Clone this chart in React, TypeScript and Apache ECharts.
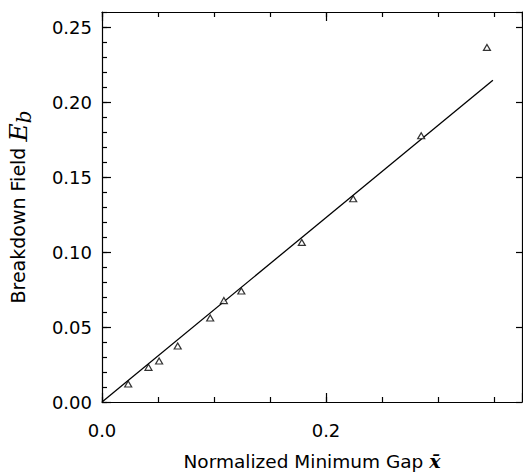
import React, { useEffect, useRef } from "react";
import * as echarts from "echarts";

const gapX = [0.0234, 0.0415, 0.051, 0.0676, 0.0966, 0.1088, 0.1244, 0.1784, 0.2243, 0.285, 0.3437];
const fieldEb = [0.012, 0.0231, 0.0273, 0.0373, 0.056, 0.0676, 0.074, 0.1064, 0.1355, 0.1775, 0.2364];
const fitX = [0, 0.349];
const fitY = [0, 0.2145];
const xTickLabels = ["0.0", "0.2"];
const yTickLabels = ["0.00", "0.05", "0.10", "0.15", "0.20", "0.25"];

const FONT = "DejaVu Sans";
const XMAX = 0.375;
const YMAX = 0.26;

export default function App() {
  const ref = useRef<HTMLDivElement>(null);
  useEffect(() => {
    if (!ref.current) return;
    const chart = echarts.init(ref.current, null, { renderer: "svg" });
    const lineStyle = { color: "#000", width: 1.2 };
    const hidden = { show: false };
    const axisLine = { show: true, onZero: false, lineStyle };
    const noLine = { show: false, onZero: false };
    const fmtX = (v: number) => {
      const s = v.toFixed(2);
      if (s === "0.00") return xTickLabels[0];
      if (s === "0.20") return xTickLabels[1];
      return "";
    };
    const fmtY = (v: number) => {
      const s = v.toFixed(2);
      return yTickLabels.includes(s) ? s : "";
    };
    chart.setOption({
      animation: false,
      backgroundColor: "#fff",
      grid: { left: 102, top: 12, right: 1, bottom: 70, containLabel: false, outerBoundsMode: "none" },
      xAxis: [
        {
          type: "value", min: 0, max: XMAX, interval: 0.05, position: "bottom",
          axisLine,
          axisTick: { show: true, inside: true, length: 5, lineStyle },
          axisLabel: { show: true, formatter: fmtX, color: "#000", fontFamily: FONT, fontSize: 18, margin: 19, showMaxLabel: false },
          splitLine: hidden,
          name: "{a|Normalized Minimum Gap }{x|x\u0304}",
          nameLocation: "middle", nameGap: 49,
          nameTextStyle: {
            lineHeight: 20,
            rich: {
              a: { fontFamily: FONT, fontSize: 18.5, lineHeight: 20, color: "#000" },
              x: { fontFamily: "DejaVu Serif", fontSize: 19, lineHeight: 20, fontStyle: "italic", fontWeight: "bold", color: "#000" },
            },
          },
        },
        {
          type: "value", min: 0, max: XMAX, interval: 0.2, position: "bottom",
          axisLine: noLine,
          axisTick: { show: true, inside: true, length: 9, lineStyle },
          axisLabel: hidden, splitLine: hidden,
        },
        {
          type: "value", min: 0, max: XMAX, interval: 0.05, position: "top",
          axisLine,
          axisTick: { show: true, inside: true, length: 5, lineStyle },
          axisLabel: hidden, splitLine: hidden,
        },
        {
          type: "value", min: 0, max: XMAX, interval: 0.2, position: "top",
          axisLine: noLine,
          axisTick: { show: true, inside: true, length: 9, lineStyle },
          axisLabel: hidden, splitLine: hidden,
        },
      ],
      yAxis: [
        {
          type: "value", min: 0, max: YMAX, interval: 0.05, position: "left",
          axisLine,
          axisTick: { show: true, inside: true, length: 9, lineStyle },
          axisLabel: { show: true, formatter: fmtY, color: "#000", fontFamily: FONT, fontSize: 18, margin: 10, showMaxLabel: false },
          splitLine: hidden,
          name: "{a|Breakdown Field }{e|E}{s|b}",
          nameLocation: "middle", nameGap: 68, nameRotate: 90,
          nameTextStyle: {
            rich: {
              a: { fontFamily: FONT, fontSize: 19, color: "#000" },
              e: { fontFamily: "DejaVu Serif", fontSize: 25, fontStyle: "italic", color: "#000" },
              s: { fontFamily: "DejaVu Serif", fontSize: 20, fontStyle: "italic", color: "#000", padding: [12, 0, 0, 0] },
            },
          },
        },
        {
          type: "value", min: 0, max: YMAX, interval: 0.01, position: "left",
          axisLine: noLine,
          axisTick: { show: true, inside: true, length: 5, lineStyle },
          axisLabel: hidden, splitLine: hidden,
        },
        {
          type: "value", min: 0, max: YMAX, interval: 0.05, position: "right",
          axisLine,
          axisTick: { show: true, inside: true, length: 6, lineStyle },
          axisLabel: hidden, splitLine: hidden,
        },
      ],
      series: [
        {
          type: "line",
          xAxisIndex: 0, yAxisIndex: 0,
          data: fitX.map((x, i) => [x, fitY[i]]),
          showSymbol: false,
          lineStyle: { color: "#000", width: 1.3 },
          silent: true,
        },
        {
          type: "scatter",
          xAxisIndex: 0, yAxisIndex: 0,
          data: gapX.map((x, i) => [x, fieldEb[i]]),
          symbol: "triangle",
          symbolSize: [7, 6],
          itemStyle: { color: "#fff", borderColor: "#000", borderWidth: 1.2 },
          z: 3,
        },
      ],
    });
    return () => chart.dispose();
  }, []);
  return <div ref={ref} style={{ position: "absolute", left: 0, top: 0, width: 523, height: 472 }} />;
}
